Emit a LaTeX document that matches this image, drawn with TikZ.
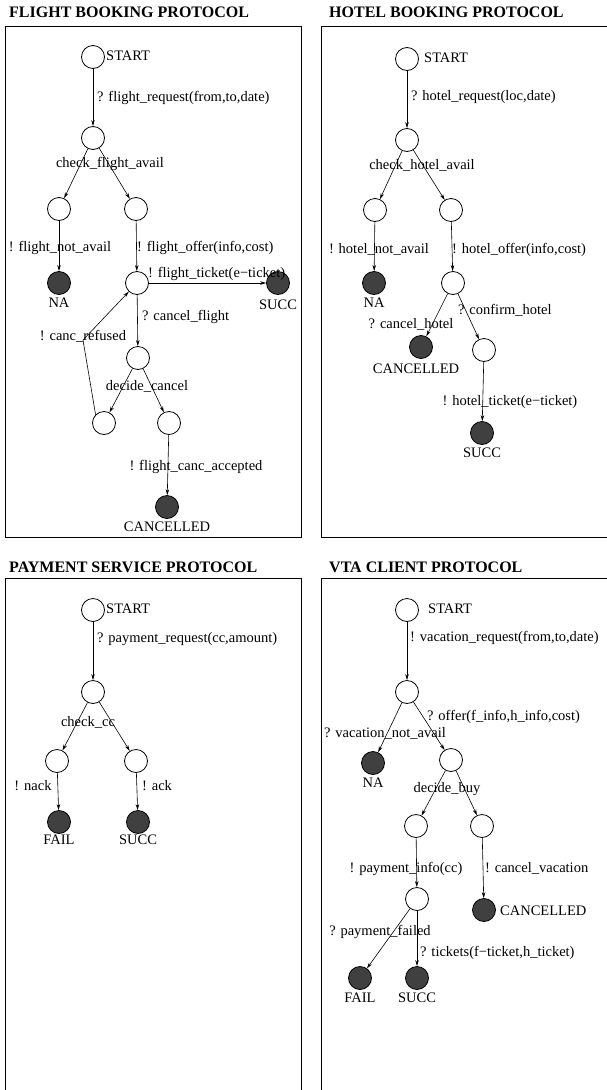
\documentclass[tikz,border=0pt]{standalone}
\usepackage{fontspec}
\setmainfont{Liberation Serif}
\usetikzlibrary{arrows.meta,positioning}
\definecolor{EndGray}{RGB}{64,64,64}

\begin{document}
\begin{tikzpicture}[x=1pt, y=-1pt]
  \tikzset{
    st/.style={circle, draw, line width=0.8pt, minimum size=23pt, inner sep=0pt},
    fin/.style={st, fill=EndGray},
    lbl/.style={inner sep=0pt, text height=10pt, text depth=3pt, font=\fontsize{14.5}{16}\selectfont},
    ttl/.style={inner sep=0pt, anchor=base west, font=\fontsize{16}{18}\selectfont\bfseries},
    arr/.style={-{Stealth[length=6pt, width=3.5pt]}, line width=0.6pt},
    frame/.style={line width=0.9pt}
  }
  \useasboundingbox (0,0) rectangle (607,1090);

  % frames and titles
  \draw[frame] (5,26) rectangle (301,537);
  \draw[frame] (612,26) -| (321,537) -- (612,537);
  \draw[frame] (5,1095) |- (301,578) -- (301,1095);
  \draw[frame] (321,1095) |- (612,578);
  \node[ttl] (tflight) at (9,17) {FLIGHT BOOKING PROTOCOL};
  \node[ttl] (thotel) at (329,17) {HOTEL BOOKING PROTOCOL};
  \node[ttl] (tpay) at (9,572) {PAYMENT SERVICE PROTOCOL};
  \node[ttl] (tvta) at (329,572) {VTA CLIENT PROTOCOL};

  % flight booking
  \node[st] (fs) at (93,57) {};
  \node[lbl, anchor=west] (fsT) at (106,57) {START};
  \node[st] (f1) at (93,138) {};
  \node[st] (f2) at (59,209) {};
  \node[st] (f3) at (136,209) {};
  \node[fin] (fna) at (59,283) {};
  \node[lbl, below=2pt of fna] (fnaT) {NA};
  \node[st] (f4) at (137,283) {};
  \node[fin] (fsucc) at (278,283) {};
  \node[lbl, below=4pt of fsucc] (fsuccT) {SUCC};
  \node[st] (f5) at (138,358) {};
  \node[st] (f6) at (104,423) {};
  \node[st] (f7) at (169,423) {};
  \node[fin] (fcanc) at (167,507) {};
  \node[lbl, below=2pt of fcanc] (fcancT) {CANCELLED};
  \coordinate (fbend) at (83,340);
  \draw[arr] (fs) -- (f1);
  \draw[arr] (f1) -- (f2);
  \draw[arr] (f1) -- (f3);
  \draw[arr] (f2) -- (fna);
  \draw[arr] (f3) -- (f4);
  \draw[arr] (f4) -- (fsucc);
  \draw[arr] (f4) -- (f5);
  \draw[arr] (f5) -- (f6);
  \draw[arr] (f5) -- (f7);
  \draw[arr] (f6.135) -- (fbend) -- (f4);
  \draw[arr] (f7) -- (fcanc);
  \node[lbl, anchor=west] (fl1) at (97,98) {? flight\_request(from,to,date)};
  \node[lbl] (fl2) at (110,164) {check\_flight\_avail};
  \node[lbl] (fl3) at (60,248) {! flight\_not\_avail};
  \node[lbl, anchor=west] (fl4) at (137,248) {! flight\_offer(info,cost)};
  \node[lbl, anchor=west] (fl5) at (148,274) {! flight\_ticket(e−ticket)};
  \node[lbl, anchor=west] (fl6) at (142,317) {? cancel\_flight};
  \node[lbl] (fl7) at (83,337) {! canc\_refused};
  \node[lbl] (fl8) at (147,387) {decide\_cancel};
  \node[lbl] (fl9) at (196,467) {! flight\_canc\_accepted};

  % hotel booking
  \node[st] (hs) at (407,59) {};
  \node[lbl, anchor=west] (hsT) at (424,59) {START};
  \node[st] (h1) at (407,140) {};
  \node[st] (h2) at (375,210) {};
  \node[st] (h3) at (451,210) {};
  \node[fin] (hna) at (374,283) {};
  \node[lbl, below=2pt of hna] (hnaT) {NA};
  \node[st] (h4) at (453,283) {};
  \node[fin] (hcanc) at (421,347) {};
  \node[lbl] (hcancT) at (416,370) {CANCELLED};
  \node[st] (h5) at (484,350) {};
  \node[fin] (hsucc) at (482,433) {};
  \node[lbl, below=2pt of hsucc] (hsuccT) {SUCC};
  \draw[arr] (hs) -- (h1);
  \draw[arr] (h1) -- (h2);
  \draw[arr] (h1) -- (h3);
  \draw[arr] (h2) -- (hna);
  \draw[arr] (h3) -- (h4);
  \draw[arr] (h4) -- (hcanc);
  \draw[arr] (h4) -- (h5);
  \draw[arr] (h5) -- (hsucc);
  \node[lbl, anchor=west] (hl1) at (411,97) {? hotel\_request(loc,date)};
  \node[lbl] (hl2) at (422,166) {check\_hotel\_avail};
  \node[lbl] (hl3) at (379,250) {! hotel\_not\_avail};
  \node[lbl, anchor=west] (hl4) at (452,250) {! hotel\_offer(info,cost)};
  \node[lbl, anchor=west] (hl5) at (458,311) {? confirm\_hotel};
  \node[lbl] (hl6) at (411,325) {? cancel\_hotel};
  \node[lbl] (hl7) at (510,402) {! hotel\_ticket(e−ticket)};

  % payment service
  \node[st] (ps) at (93,610) {};
  \node[lbl, anchor=west] (psT) at (106,610) {START};
  \node[st] (p1) at (93,692) {};
  \node[st] (p2) at (57,761) {};
  \node[st] (p3) at (136,761) {};
  \node[fin] (pfail) at (59,822) {};
  \node[lbl, below=0pt of pfail] (pfailT) {FAIL};
  \node[fin] (psucc) at (138,822) {};
  \node[lbl, below=0pt of psucc] (psuccT) {SUCC};
  \draw[arr] (ps) -- (p1);
  \draw[arr] (p1) -- (p2);
  \draw[arr] (p1) -- (p3);
  \draw[arr] (p2) -- (pfail);
  \draw[arr] (p3) -- (psucc);
  \node[lbl, anchor=west] (pl1) at (97,639) {? payment\_request(cc,amount)};
  \node[lbl] (pl2) at (88,723) {check\_cc};
  \node[lbl] (pl3) at (33,787) {! nack};
  \node[lbl, anchor=west] (pl4) at (142,787) {! ack};

  % vta client
  \node[st] (vs) at (407,610) {};
  \node[lbl, anchor=west] (vsT) at (428,610) {START};
  \node[st] (v1) at (407,692) {};
  \node[fin] (vna) at (373,763) {};
  \node[lbl, below=2pt of vna] (vnaT) {NA};
  \node[st] (v2) at (451,760) {};
  \node[st] (v3) at (416,826) {};
  \node[st] (v4) at (482,826) {};
  \node[st] (v5) at (417,899) {};
  \node[fin] (vcanc) at (484,910) {};
  \node[lbl, anchor=west] (vcancT) at (500,912) {CANCELLED};
  \node[fin] (vfail) at (360,978) {};
  \node[lbl, below=2pt of vfail] (vfailT) {FAIL};
  \node[fin] (vsucc) at (417,978) {};
  \node[lbl, below=2pt of vsucc] (vsuccT) {SUCC};
  \draw[arr] (vs) -- (v1);
  \draw[arr] (v1) -- (vna);
  \draw[arr] (v1) -- (v2);
  \draw[arr] (v2) -- (v3);
  \draw[arr] (v2) -- (v4);
  \draw[arr] (v3) -- (v5);
  \draw[arr] (v4) -- (vcanc);
  \draw[arr] (v5) -- (vfail);
  \draw[arr] (v5) -- (vsucc);
  \node[lbl, anchor=west] (vl1) at (410,638) {! vacation\_request(from,to,date)};
  \node[lbl, anchor=west] (vl2) at (427,717) {? offer(f\_info,h\_info,cost)};
  \node[lbl] (vl3) at (385,734) {? vacation\_not\_avail};
  \node[lbl] (vl4) at (447,789) {decide\_buy};
  \node[lbl] (vl5) at (406,869) {! payment\_info(cc)};
  \node[lbl, anchor=west] (vl6) at (485,869) {! cancel\_vacation};
  \node[lbl] (vl7) at (380,932) {? payment\_failed};
  \node[lbl, anchor=west] (vl8) at (420,953) {? tickets(f−ticket,h\_ticket)};
\end{tikzpicture}
\end{document}
